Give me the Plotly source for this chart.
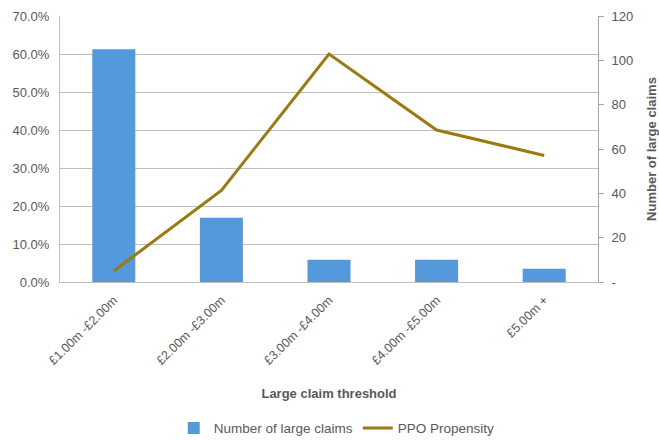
import plotly.graph_objects as go

categories = ["£1.00m -£2.00m", "£2.00m -£3.00m", "£3.00m -£4.00m", "£4.00m -£5.00m", "£5.00m +"]
num_large_claims = [105, 29, 10, 10, 6]
ppo_propensity = [0.029, 0.241, 0.600, 0.400, 0.333]
right_tickvals = [0, 20, 40, 60, 80, 100, 120]
right_ticktext = ["-", "20", "40", "60", "80", "100", "120"]

FONT = "Liberation Sans, Arial, sans-serif"
GREY = "#595959"
GRID = "#bfbfbf"

fig = go.Figure()
fig.add_trace(go.Bar(
    x=categories, y=num_large_claims, name="Number of large claims",
    marker=dict(color="#5599dd", line=dict(width=0)), yaxis="y", width=0.4,
))
fig.add_trace(go.Scatter(
    x=categories, y=ppo_propensity, name="PPO Propensity", mode="lines",
    line=dict(color="#9c7a10", width=3), yaxis="y2",
))

fig.update_layout(
    width=659, height=440,
    margin=dict(l=60, r=61, t=16, b=158, autoexpand=False),
    paper_bgcolor="white", plot_bgcolor="white",
    font=dict(family=FONT, size=13, color=GREY),
    showlegend=True,
    legend=dict(orientation="h", xref="container", yref="container",
                x=0.511, xanchor="center", y=0.027, yanchor="middle",
                font=dict(family=FONT, size=13.5, color=GREY), traceorder="normal"),
    xaxis=dict(
        automargin=False,
        showgrid=False, showline=True, linecolor=GRID, linewidth=1,
        tickangle=-45, ticks="", tickfont=dict(size=12.5, color=GREY), ticklabelstandoff=5,
        title=dict(text="<b>Large claim threshold</b>", font=dict(size=13, color=GREY), standoff=22),
    ),
    yaxis=dict(
        automargin=False,
        side="right", range=[0, 120], tickvals=right_tickvals, ticktext=right_ticktext,
        showgrid=False, showline=True, linecolor="#a6a6a6", linewidth=1,
        ticks="outside", ticklen=5, tickcolor="#a6a6a6", ticklabelstandoff=5,
        tickfont=dict(size=13, color=GREY), zeroline=False,
        title=dict(text="<b>Number of large claims</b>", font=dict(size=13, color=GREY), standoff=14),
    ),
    yaxis2=dict(
        automargin=False,
        overlaying="y", side="left", range=[0, 0.7], dtick=0.1, tickformat=".1%",
        showgrid=True, gridcolor=GRID, gridwidth=1, zeroline=False,
        showline=True, linecolor=GRID, linewidth=1, ticks="", ticklabelstandoff=7,
        tickfont=dict(size=13, color=GREY),
    ),
)

fig.write_html("out.html")
